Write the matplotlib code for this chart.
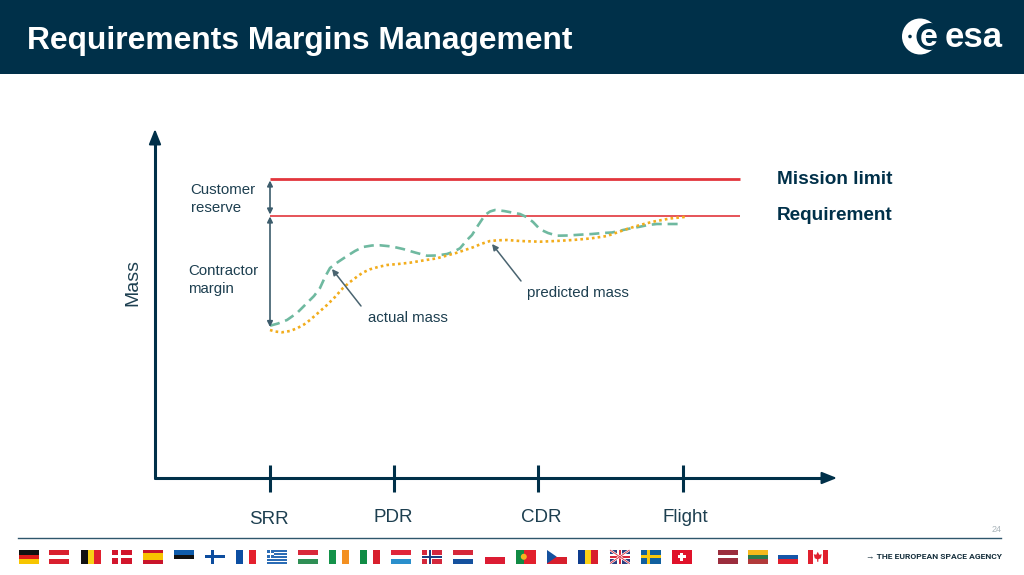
import matplotlib
matplotlib.use('Agg')
import matplotlib.pyplot as plt
from matplotlib.patches import Rectangle, Circle, Polygon

plt.rcParams['font.family'] = ['Liberation Sans', 'DejaVu Sans']

# valores (x = fase do projeto, y = massa, eixo invertido como na tela)
actual_x = [270, 278, 287, 297, 307, 314, 320, 325, 330, 338, 347, 355, 363, 372, 380, 392, 403, 415, 427, 437, 447, 454,
            460, 467, 472, 477, 481, 485, 490, 495, 504, 513, 520, 527, 533, 540, 548, 557, 568, 580, 592, 603, 612,
            620, 630, 640, 648, 657, 668, 680]
actual_y = [325.7, 323.5, 320, 313, 303, 296, 288, 277, 268, 262, 256, 251, 247, 245.5, 245.3, 246.5, 249, 252.5, 255.7, 255.5, 254, 251.5,
            248.3, 240, 235, 227, 221, 215, 211.5, 210, 211, 212.7, 214, 217.3, 222, 229.3, 233, 235.7, 235.5, 234.7, 234, 233, 232.5,
            230.7, 228.5, 226.7, 225, 224, 224, 224]
predicted_x = [270, 275, 282, 290, 297, 304, 310, 318, 327, 335, 343, 350, 357, 363, 370, 378, 387, 398, 410, 423, 437, 447,
               457, 465, 473, 481, 490, 498, 507, 520, 540, 556, 573, 590, 607, 617, 627, 640, 653, 670, 687]
predicted_y = [330, 331.5, 332.3, 331, 328.3, 324.5, 320, 313, 305, 297, 288, 282, 276.7, 272.5, 269.3, 267, 265, 264, 262.7, 260.5, 258.3, 255.5,
               252.7, 250, 247.3, 244, 241, 240.3, 240, 241, 241.7, 241, 240, 238.5, 236, 232.5, 229, 225, 221.7, 218.5, 216.7]
mission_limit = 179
requirement = 215.5
line_start, line_end = 270, 740
arrow_x = 270
margin_bottom = 327
milestones = [270, 394, 538, 683]
milestone_names = ['SRR', 'PDR', 'CDR', 'Flight']
milestone_label_x = [269, 393.5, 541, 685.5]
milestone_label_y = [519, 517, 517, 517]

navy = '#003049'
text_col = '#1d3f50'
red = '#e2363c'

# bandeiras: nome, inicio x, tipo, cores
flags = [
    ('de', 19, 'h', ['#111111', '#dd1c1a', '#f7c600']),
    ('at', 49, 'h', ['#d9202e', '#ffffff', '#d9202e']),
    ('be', 81, 'v', ['#111111', '#f7d116', '#e0202e']),
    ('dk', 112, 'x', ['#d2152c', '#ffffff']),
    ('es', 143, 'es', ['#c9152a', '#f8c300', '#c9152a']),
    ('ee', 174, 'h', ['#0f5cab', '#111111', '#ffffff']),
    ('fi', 205, 'x', ['#ffffff', '#0d4d9e']),
    ('fr', 236, 'v', ['#0c4ea2', '#ffffff', '#e4202e']),
    ('gr', 267, 'gr', ['#2b6cb5', '#ffffff']),
    ('hu', 298, 'h', ['#d9283a', '#ffffff', '#2f8f55']),
    ('ie', 329, 'v', ['#14924a', '#ffffff', '#f39021']),
    ('it', 360, 'v', ['#108c45', '#ffffff', '#d81f2d']),
    ('lu', 391, 'h', ['#e0263a', '#ffffff', '#2a8fcc']),
    ('no', 422, 'xx', ['#d4283c', '#ffffff', '#1a3f80']),
    ('nl', 453, 'h', ['#d6283a', '#ffffff', '#15519e']),
    ('pl', 485, 'h', ['#ffffff', '#dc1c33']),
    ('pt', 516, 'pt', ['#118a44', '#e2202c', '#f4b120']),
    ('cz', 547, 'cz', ['#ffffff', '#d71f2d', '#15519e']),
    ('ro', 578, 'v', ['#0e3c8e', '#fbd116', '#d81f2d']),
    ('uk', 610, 'uk', ['#2b3f7f', '#ffffff', '#d8283c']),
    ('se', 641, 'x', ['#11609f', '#f9c80e']),
    ('ch', 672, 'ch', ['#e0122a', '#ffffff']),
    ('lv', 718, 'lv', ['#9b2d3d', '#ffffff']),
    ('lt', 748, 'h', ['#f6b91c', '#2c7a4b', '#b23a3a']),
    ('si', 778, 'h', ['#ffffff', '#1656a8', '#e0202e']),
    ('ca', 808, 'ca', ['#e0202e', '#ffffff']),
]
flag_y, flag_w, flag_h = 550, 19.5, 13.5


def rect(ax, x, y, w, h, col):
    ax.add_patch(Rectangle((x, y), w, h, fc=col, ec='none'))


def draw_flag(ax, x, kind, cols):
    y, w, h = flag_y, flag_w, flag_h
    if kind == 'h':
        for i, c in enumerate(cols):
            rect(ax, x, y + i * h / len(cols), w, h / len(cols), c)
    elif kind == 'v':
        for i, c in enumerate(cols):
            rect(ax, x + i * w / len(cols), y, w / len(cols), h, c)
    elif kind == 'x':
        rect(ax, x, y, w, h, cols[0])
        rect(ax, x + w * 0.32, y, w * 0.16, h, cols[1])
        rect(ax, x, y + h * 0.4, w, h * 0.2, cols[1])
    elif kind == 'xx':
        rect(ax, x, y, w, h, cols[0])
        rect(ax, x + w * 0.27, y, w * 0.24, h, cols[1])
        rect(ax, x, y + h * 0.34, w, h * 0.32, cols[1])
        rect(ax, x + w * 0.34, y, w * 0.1, h, cols[2])
        rect(ax, x, y + h * 0.43, w, h * 0.14, cols[2])
    elif kind == 'es':
        rect(ax, x, y, w, h, cols[0])
        rect(ax, x, y + h * 0.25, w, h * 0.5, cols[1])
    elif kind == 'gr':
        for i in range(9):
            rect(ax, x, y + i * h / 9, w, h / 9, cols[i % 2])
        rect(ax, x, y, w * 0.38, h * 5 / 9, cols[0])
        rect(ax, x + w * 0.15, y, w * 0.08, h * 5 / 9, cols[1])
        rect(ax, x, y + h * 2 / 9, w * 0.38, h / 9, cols[1])
    elif kind == 'pt':
        rect(ax, x, y, w, h, cols[1])
        rect(ax, x, y, w * 0.4, h, cols[0])
        ax.add_patch(Circle((x + w * 0.4, y + h / 2), 3, fc=cols[2], ec='none'))
    elif kind == 'cz':
        rect(ax, x, y, w, h / 2, cols[0])
        rect(ax, x, y + h / 2, w, h / 2, cols[1])
        ax.add_patch(Polygon([(x, y), (x + w * 0.5, y + h / 2), (x, y + h)], fc=cols[2], ec='none'))
    elif kind == 'uk':
        rect(ax, x, y, w, h, cols[0])
        ax.plot([x, x + w], [y, y + h], color=cols[1], lw=1.6, solid_capstyle='butt')
        ax.plot([x, x + w], [y + h, y], color=cols[1], lw=1.6, solid_capstyle='butt')
        ax.plot([x, x + w], [y, y + h], color=cols[2], lw=0.6, solid_capstyle='butt')
        ax.plot([x, x + w], [y + h, y], color=cols[2], lw=0.6, solid_capstyle='butt')
        rect(ax, x + w * 0.38, y, w * 0.24, h, cols[1])
        rect(ax, x, y + h * 0.33, w, h * 0.34, cols[1])
        rect(ax, x + w * 0.44, y, w * 0.12, h, cols[2])
        rect(ax, x, y + h * 0.41, w, h * 0.18, cols[2])
    elif kind == 'ch':
        rect(ax, x, y, w, h, cols[0])
        rect(ax, x + w * 0.42, y + h * 0.22, w * 0.16, h * 0.56, cols[1])
        rect(ax, x + w * 0.3, y + h * 0.39, w * 0.4, h * 0.22, cols[1])
    elif kind == 'lv':
        rect(ax, x, y, w, h, cols[0])
        rect(ax, x, y + h * 0.4, w, h * 0.2, cols[1])
    elif kind == 'ca':
        rect(ax, x, y, w * 0.25, h, cols[0])
        rect(ax, x + w * 0.75, y, w * 0.25, h, cols[0])
        cx, cy = x + w / 2, y + h / 2
        ax.add_patch(Polygon([(cx, cy - 5), (cx + 1.5, cy - 2), (cx + 4, cy - 2.5), (cx + 3, cy + 1.5), (cx + 0.6, cy + 2.5),
                              (cx + 0.6, cy + 5), (cx - 0.6, cy + 5), (cx - 0.6, cy + 2.5), (cx - 3, cy + 1.5),
                              (cx - 4, cy - 2.5), (cx - 1.5, cy - 2)], fc=cols[0], ec='none'))


fig = plt.figure(figsize=(10.24, 5.75), dpi=100, facecolor='white')

# fundo da pagina em coordenadas de pixel
page = fig.add_axes([0, 0, 1, 1])
page.set_xlim(0, 1024)
page.set_ylim(575, 0)
page.axis('off')

rect(page, 0, 0, 1024, 74, navy)
page.text(27, 49, 'Requirements Margins Management', color='white', fontsize=22.9, fontweight='bold', va='baseline', ha='left')

# logo
page.add_patch(Circle((920, 36.5), 18, fc='white', ec='none'))
page.add_patch(Circle((930, 36.5), 13.5, fc=navy, ec='none'))
page.add_patch(Circle((910, 36.5), 1.8, fc=navy, ec='none'))
page.text(928.5, 46, 'e', color='white', fontsize=23, fontweight='bold', va='baseline', ha='center')
page.text(974, 47, 'esa', color='white', fontsize=25, fontweight='bold', va='baseline', ha='center')

# rodape
page.plot([18, 1001], [538, 538], color='#2f566c', lw=1)
page.text(996.5, 529, '24', color='#a9b4ba', fontsize=6.5, va='center', ha='center')
for name, x0, kind, cols in flags:
    draw_flag(page, x0, kind, cols)
page.text(1002, 556.5, '→ THE EUROPEAN SPACE AGENCY', color='#17303d', fontsize=6.1, fontweight='bold', va='center', ha='right',
          family=['Roboto', 'Liberation Sans', 'DejaVu Sans'])

# grafico
ax = fig.add_axes([155 / 1024, 1 - 478 / 575, (836 - 155) / 1024, (478 - 130) / 575])
ax.set_xlim(155, 836)
ax.set_ylim(478, 130)
ax.patch.set_alpha(0)
for s in ax.spines.values():
    s.set_visible(False)
ax.set_xticks([])
ax.set_yticks([])

axis_arrow = dict(arrowstyle='-|>,head_length=0.7,head_width=0.28', color=navy, lw=1.5, shrinkA=0, shrinkB=0, mutation_scale=13)
ax.plot([155, 825], [478, 478], color=navy, lw=2.2, solid_capstyle='round', clip_on=False)
ax.plot([155, 155], [478, 140], color=navy, lw=2.2, solid_capstyle='round', clip_on=False)
ax.annotate('', xy=(837, 478), xytext=(820, 478), annotation_clip=False, arrowprops=axis_arrow)
ax.annotate('', xy=(155, 129), xytext=(155, 146), annotation_clip=False, arrowprops=axis_arrow)
ax.vlines(milestones, 465, 492, color=navy, lw=2.2, clip_on=False)
for x, name, ly in zip(milestone_label_x, milestone_names, milestone_label_y):
    ax.text(x, ly, name, color=text_col, fontsize=13.5, ha='center', va='center', clip_on=False)

ax.plot([line_start, line_end], [mission_limit, mission_limit], color=red, lw=2, solid_capstyle='butt')
ax.plot([line_start, line_end], [requirement, requirement], color=red, lw=1.2, solid_capstyle='butt')
ax.plot(actual_x, actual_y, color='#6fb9a0', lw=1.9, dashes=(3.8, 2.2))
ax.plot(predicted_x, predicted_y, color='#f2ad1d', lw=1.9, dashes=(1, 1.2))

ax.annotate('', xy=(arrow_x, mission_limit + 1.5), xytext=(arrow_x, requirement - 1),
            arrowprops=dict(arrowstyle='<|-|>', color='#3c5c6c', lw=1.2, shrinkA=0, shrinkB=0, mutation_scale=8))
ax.annotate('', xy=(arrow_x, requirement + 1), xytext=(arrow_x, margin_bottom),
            arrowprops=dict(arrowstyle='<|-|>', color='#3c5c6c', lw=1.2, shrinkA=0, shrinkB=0, mutation_scale=8))
ax.annotate('', xy=(332, 269), xytext=(361, 306),
            arrowprops=dict(arrowstyle='-|>', color='#4a6470', lw=1.1, shrinkA=0, shrinkB=0, mutation_scale=9))
ax.annotate('', xy=(492, 244), xytext=(521, 281),
            arrowprops=dict(arrowstyle='-|>', color='#4a6470', lw=1.1, shrinkA=0, shrinkB=0, mutation_scale=9))

ax.text(190.5, 199, 'Customer\nreserve', color=text_col, fontsize=10.8, va='center', ha='left', linespacing=1.4)
ax.text(188, 280, 'Contractor\nmargin', color=text_col, fontsize=10.8, va='center', ha='left', linespacing=1.4)
ax.text(408, 318, 'actual mass', color=text_col, fontsize=10.8, va='center', ha='center')
ax.text(578, 292.5, 'predicted mass', color=text_col, fontsize=10.8, va='center', ha='center')
ax.text(777, 179, 'Mission limit', color=navy, fontsize=13.7, fontweight='bold', va='center', ha='left', clip_on=False)
ax.text(777, 215, 'Requirement', color=navy, fontsize=13.7, fontweight='bold', va='center', ha='left', clip_on=False)
ax.text(133, 283, 'Mass', color=text_col, fontsize=14, rotation=90, va='center', ha='center', clip_on=False)

fig.savefig('out.png', dpi=100, facecolor='white')
